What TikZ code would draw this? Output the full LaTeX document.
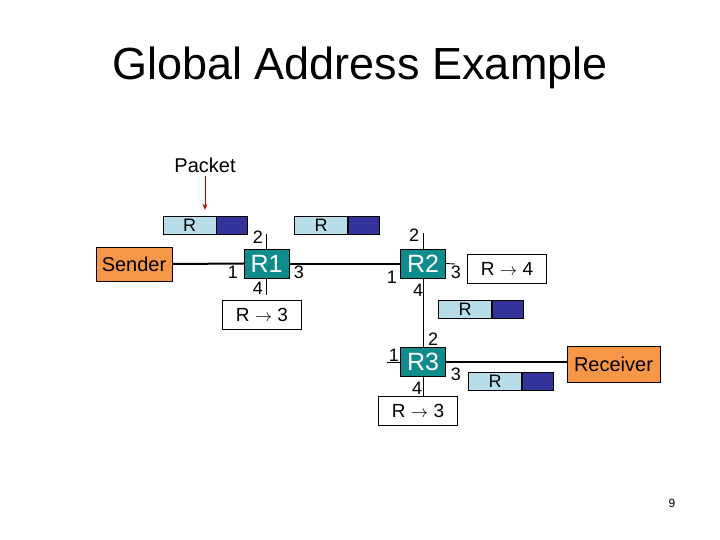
\documentclass[tikz,border=0pt]{standalone}
\usepackage{fontspec}
\setmainfont{Liberation Sans}
\usetikzlibrary{arrows.meta}
\usetikzlibrary{positioning}
\usepackage{xcolor}
\definecolor{hostorange}{HTML}{F79646}
\definecolor{routerteal}{HTML}{0E8C8C}
\definecolor{pktlight}{HTML}{B7DDE8}
\definecolor{pktdark}{HTML}{333399}
\definecolor{arrowred}{HTML}{C00000}

\begin{document}
\begin{tikzpicture}[x=1pt, y=-1pt,
        host/.style={rectangle, draw=black, fill=hostorange, inner sep=0pt,
          font=\fontsize{20}{22}\selectfont},
        router/.style={rectangle, draw=black, fill=routerteal, text=white,
          minimum width=45pt, minimum height=29pt, inner sep=0pt,
          font=\fontsize{25}{27}\selectfont},
        table/.style={rectangle, draw=black, fill=white, minimum width=79pt,
          minimum height=29pt, inner sep=0pt,
          font=\fontsize{19}{21}\selectfont},
        pktlbl/.style={rectangle, draw=black, fill=pktlight, minimum width=53pt,
          minimum height=18pt, inner sep=0pt, font=\fontsize{18}{18}\selectfont},
        pktbody/.style={rectangle, draw=black, fill=pktdark, minimum width=31pt,
          minimum height=18pt, inner sep=0pt},
        port/.style={font=\fontsize{18}{20}\selectfont, inner sep=0pt},
        link/.style={black, line width=2pt},
        stub/.style={black, line width=0.9pt},
      ]
      \useasboundingbox (0,0) rectangle (720,540);

      % Title
      \node[font=\fontsize{45}{50}\selectfont] (title) at (360,68)
        {Global Address Example};

      % Hosts
      \node[host, minimum width=76pt, minimum height=34pt] (sender)
        at (134,264) {Sender};
      \node[host, minimum width=93pt, minimum height=36pt] (receiver)
        at (613.5,364) {Receiver};

      % Routers
      \node[router] (r1) at (266.5,263.5) {R1};
      \node[router] (r2) at (423,263.5) {R2};
      \node[router] (r3) at (423,362) {R3};

      % Forwarding tables
      \node[table] (t1) at (262,314.5) {R $\rightarrow$ 3};
      \node[table] (t2) at (507,268.5) {R $\rightarrow$ 4};
      \node[table] (t3) at (418,410.5) {R $\rightarrow$ 3};

      % Packets
      \node[pktlbl] (p1r) at (189.5,225) {R};
      \node[pktbody, right=0pt of p1r] (p1d) {};
      \node[pktlbl] (p2r) at (321,225) {R};
      \node[pktbody, right=0pt of p2r] (p2d) {};
      \node[pktlbl] (p3r) at (465,309) {R};
      \node[pktbody, right=0pt of p3r] (p3d) {};
      \node[pktlbl] (p4r) at (495,381) {R};
      \node[pktbody, right=0pt of p4r] (p4d) {};

      % Packet label and arrow
      \node[font=\fontsize{20}{22}\selectfont] (plabel) at (205,165) {Packet};
      \draw[arrowred, line width=1pt, -{Stealth[length=6pt,width=5pt]},
        shorten >=6pt]
        (plabel.south) -- (plabel.south |- p1r.north);

      % Links
      \draw[link] (sender.east) -- (r1.west);
      \draw[link] (r1.east) -- (r2.west);
      \draw[link] (r3.east) -- (r3.east -| receiver.west);
      \draw[stub] (r2.south) -- (r3.north);

      % Port stubs
      \coordinate (r1up) at (266.5,234);
      \coordinate (r1dn) at (266.5,295);
      \coordinate (r2up) at (423,233);
      \coordinate (r2rt) at (455,264);
      \coordinate (r3lt) at (387,362);
      \draw[stub] (r1.north) -- (r1up);
      \draw[stub] (r1.south) -- (r1dn);
      \draw[stub] (r2.north) -- (r2up);
      \draw[stub] (r2.east) -- (r2rt);
      \draw[stub] (r3.west) -- (r3lt);
      \draw[stub] (r3.south) -- (r3.south |- t3.north);

      % Port numbers
      \node[port] (r1p2) at (258,237) {2};
      \node[port] (r1p1) at (233,272) {1};
      \node[port] (r1p3) at (299,272) {3};
      \node[port] (r1p4) at (258,288) {4};
      \node[port] (r2p2) at (414,235) {2};
      \node[port] (r2p1) at (392,277) {1};
      \node[port] (r2p3) at (456,272) {3};
      \node[port] (r2p4) at (418,290) {4};
      \node[port] (r3p2) at (433,339) {2};
      \node[port] (r3p1) at (394,355) {1};
      \node[port] (r3p3) at (456,374) {3};
      \node[port] (r3p4) at (417,388) {4};

      % Page number
      \node[font=\fontsize{12}{14}\selectfont] (pageno) at (672,503) {9};

      \end{tikzpicture}
\end{document}
